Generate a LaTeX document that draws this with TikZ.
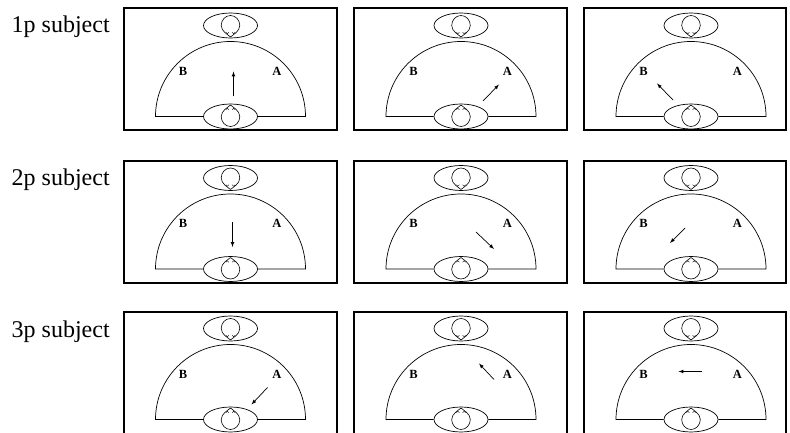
\documentclass[tikz,border=0pt]{standalone}
\usepackage{fontspec}
\setmainfont{Liberation Serif}
\usetikzlibrary{shapes.geometric}
\tikzset{
  panel/.style={line width=2pt},
  outline/.style={line width=0.7pt},
  seat/.style={ellipse, draw, line width=0.7pt, minimum width=54pt, minimum height=25pt, inner sep=0pt},
  spk/.style={font=\fontsize{12.5}{12.5}\selectfont\bfseries, inner sep=0pt},
  rowlab/.style={font=\fontsize{24}{26}\selectfont, anchor=base west, inner sep=0pt},
  move/.style={line width=0.7pt, -latex},
  head/.pic={
    \draw[line width=0.6pt] (0,11.5) .. controls (-2,9.5) and (-9.3,6) .. (-9.3,0)
      arc (180:360:9.3 and 10) .. controls (9.3,6) and (2,9.5) .. (0,11.5);
    \draw[line width=0.4pt] (-4.6,6.8) arc (180:0:1.5) (1.6,6.8) arc (180:0:1.5);
  }
}
\begin{document}
\begin{tikzpicture}[x=1pt,y=1pt]
  \useasboundingbox (0,0) rectangle (790,432);
  \clip (0,0) rectangle (790,432);
  % row labels
  \node[rowlab] (lab1) at (11.5,399.5) {1p subject};
  \node[rowlab] (lab2) at (11.5,247) {2p subject};
  \node[rowlab] (lab3) at (11.5,95) {3p subject};
  % panels: left/top/width, then arrow start and end (x right, y down from the top left corner)
  \foreach \xx/\yy/\ww/\sx/\sy/\ex/\ey in {
      123.5/423.5/213/110/88/110/63, 354/423.5/213/129/92.5/145/76, 584/423.5/202/89/91.5/73/75,
      123.5/271/213/109/61/109/86, 354/271/213/122/71/140/88, 584/271/202/101/67/86/82,
      123.5/120.5/213/144/76/128/93, 354/120.5/213/140/68/125/52, 584/120.5/202/118/60/94.5/60} {
    \begin{scope}[shift={(\xx,\yy)}]
      \draw[panel] (0,0) rectangle (\ww,-122);
      \node[seat] (lis) at (107,-17) {};
      \node[seat] (you) at (107,-108) {};
      \draw[outline] (you.west) -- (32,-108) arc (180:0:75) -- (you.east);
      \pic[rotate=180] at (lis) {head};
      \pic at (you) {head};
      \node[spk] (b) at (59.5,-62.5) {B};
      \node[spk] (a) at (153.5,-62.5) {A};
      \coordinate (s) at (\sx,-\sy);
      \coordinate (e) at (\ex,-\ey);
      \draw[move] (s) -- (e);
    \end{scope}
  }
\end{tikzpicture}
\end{document}
